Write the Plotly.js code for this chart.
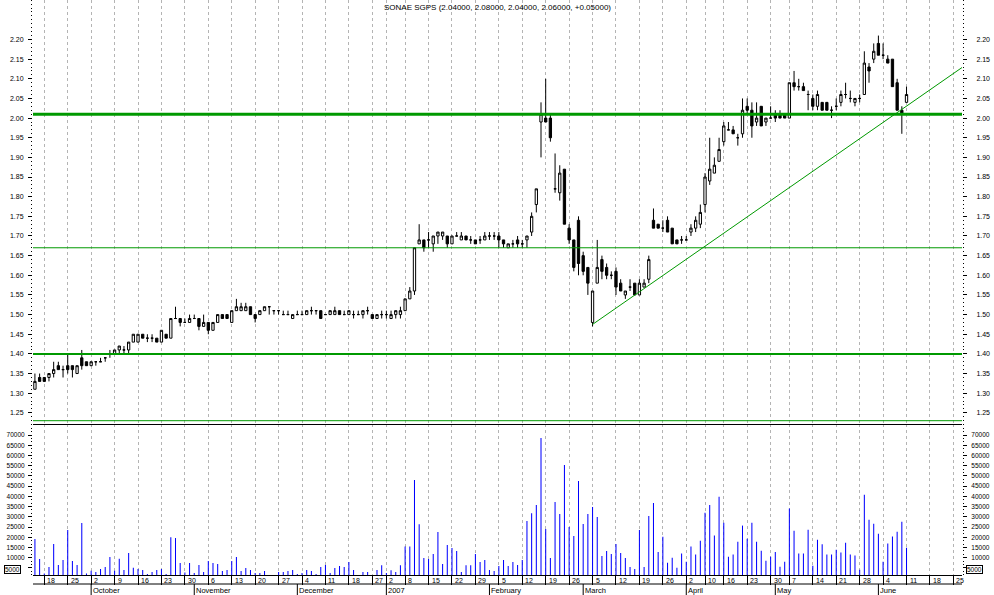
<!DOCTYPE html>
<html><head><meta charset="utf-8">
<script src="https://cdn.plot.ly/plotly-3.0.1.min.js"></script>
<style>html,body{margin:0;padding:0;background:#fff;}#chart{width:994px;height:595px;}</style>
</head><body><div id="chart"></div>
<script>
// ---- calendar (trading days, Euronext Lisbon) ----
const calendarStart = '2006-09-14';
const calendarEnd = '2007-06-29';
const holidays = ['2006-12-25','2006-12-26','2007-01-01','2007-04-06','2007-04-09','2007-05-01'];

// ---- OHLC data, one entry per trading day from 2006-09-14 ----
const priceOpen = [
1.31,1.34,1.34,1.34,1.35,1.37,1.36,1.37,1.37,1.35,
1.39,1.38,1.37,1.38,1.38,1.39,1.40,1.40,1.41,1.41,
1.41,1.43,1.43,1.45,1.44,1.44,1.44,1.43,1.45,1.44,
1.49,1.49,1.48,1.48,1.49,1.49,1.47,1.48,1.46,1.48,
1.50,1.50,1.48,1.51,1.51,1.51,1.52,1.50,1.50,1.51,
1.52,1.51,1.51,1.50,1.50,1.49,1.50,1.50,1.50,1.51,
1.51,1.51,1.50,1.50,1.50,1.51,1.50,1.50,1.50,1.50,
1.50,1.51,1.50,1.49,1.50,1.50,1.49,1.50,1.50,1.51,
1.54,1.56,1.68,1.69,1.69,1.68,1.70,1.70,1.70,1.68,
1.70,1.69,1.70,1.69,1.69,1.69,1.69,1.70,1.70,1.70,
1.69,1.67,1.68,1.69,1.68,1.69,1.71,1.78,1.99,2.00,
2.00,1.82,1.81,1.87,1.72,1.69,1.74,1.65,1.62,1.48,
1.58,1.64,1.62,1.60,1.61,1.58,1.55,1.57,1.58,1.55,
1.57,1.59,1.74,1.73,1.72,1.74,1.72,1.69,1.69,1.69,
1.71,1.72,1.73,1.78,1.84,1.86,1.89,1.94,1.97,1.97,
1.95,1.96,2.03,2.02,1.99,2.03,1.99,2.00,2.01,2.01,
2.01,2.00,2.09,2.08,2.08,2.06,2.05,2.03,2.04,2.04,
2.02,2.03,2.04,2.06,2.05,2.04,2.05,2.06,2.13,2.15,
2.19,2.16,2.15,2.15,2.09,2.02,2.04];
const priceHigh = [
1.35,1.35,1.34,1.35,1.38,1.38,1.37,1.40,1.37,1.37,
1.41,1.38,1.38,1.38,1.39,1.39,1.41,1.41,1.42,1.42,
1.43,1.45,1.45,1.45,1.45,1.45,1.44,1.46,1.45,1.49,
1.52,1.49,1.49,1.50,1.50,1.49,1.50,1.48,1.48,1.50,
1.50,1.50,1.51,1.54,1.53,1.53,1.52,1.50,1.51,1.52,
1.52,1.51,1.51,1.51,1.51,1.50,1.51,1.51,1.51,1.52,
1.51,1.51,1.50,1.51,1.52,1.51,1.51,1.51,1.51,1.51,
1.51,1.52,1.50,1.50,1.51,1.51,1.51,1.51,1.52,1.54,
1.57,1.67,1.73,1.69,1.71,1.70,1.71,1.71,1.70,1.70,
1.71,1.71,1.70,1.70,1.69,1.70,1.71,1.71,1.71,1.71,
1.69,1.68,1.69,1.70,1.69,1.70,1.76,1.82,2.04,2.10,
2.01,1.91,1.88,1.87,1.73,1.69,1.75,1.66,1.62,1.56,
1.69,1.65,1.63,1.61,1.62,1.59,1.56,1.59,1.58,1.59,
1.59,1.65,1.77,1.73,1.74,1.75,1.72,1.69,1.70,1.70,
1.73,1.75,1.78,1.86,1.95,1.90,1.95,1.99,1.99,1.98,
1.96,2.05,2.05,2.04,2.04,2.03,2.00,2.03,2.02,2.02,
2.01,2.09,2.12,2.10,2.09,2.07,2.06,2.07,2.04,2.04,
2.03,2.05,2.07,2.09,2.07,2.05,2.06,2.17,2.14,2.19,
2.21,2.19,2.16,2.15,2.10,2.03,2.08];
const priceLow = [
1.31,1.33,1.33,1.33,1.34,1.36,1.34,1.35,1.34,1.35,
1.36,1.37,1.37,1.37,1.38,1.38,1.39,1.40,1.40,1.40,
1.40,1.43,1.43,1.44,1.43,1.43,1.43,1.43,1.44,1.44,
1.49,1.47,1.48,1.48,1.49,1.46,1.47,1.45,1.46,1.48,
1.49,1.49,1.48,1.51,1.51,1.51,1.50,1.48,1.50,1.51,
1.50,1.50,1.50,1.50,1.50,1.49,1.50,1.50,1.50,1.50,
1.50,1.49,1.50,1.50,1.50,1.50,1.50,1.50,1.49,1.50,
1.49,1.50,1.49,1.49,1.49,1.49,1.49,1.49,1.49,1.51,
1.54,1.55,1.68,1.66,1.67,1.66,1.68,1.69,1.67,1.68,
1.70,1.69,1.69,1.68,1.68,1.68,1.69,1.69,1.69,1.67,
1.67,1.67,1.67,1.67,1.67,1.67,1.70,1.76,1.90,1.99,
1.94,1.81,1.79,1.73,1.68,1.61,1.60,1.60,1.55,1.47,
1.58,1.59,1.59,1.59,1.55,1.56,1.54,1.56,1.55,1.55,
1.57,1.58,1.72,1.72,1.71,1.71,1.68,1.68,1.68,1.69,
1.70,1.71,1.72,1.76,1.83,1.86,1.89,1.93,1.97,1.96,
1.93,1.95,2.01,1.95,1.98,1.98,1.98,2.00,1.99,2.00,
2.00,2.00,2.07,2.07,2.07,2.02,2.02,2.02,2.02,2.02,
2.00,2.02,2.03,2.05,2.04,2.03,2.04,2.06,2.09,2.14,
2.16,2.15,2.14,2.08,2.02,1.96,2.04];
const priceClose = [
1.33,1.33,1.33,1.35,1.36,1.36,1.36,1.36,1.36,1.37,
1.37,1.37,1.38,1.38,1.38,1.39,1.40,1.41,1.42,1.41,
1.43,1.45,1.45,1.44,1.44,1.44,1.43,1.46,1.44,1.49,
1.49,1.48,1.48,1.49,1.49,1.47,1.48,1.46,1.48,1.50,
1.49,1.49,1.51,1.52,1.52,1.52,1.50,1.49,1.51,1.52,
1.52,1.51,1.51,1.50,1.50,1.50,1.50,1.50,1.51,1.51,
1.51,1.49,1.50,1.51,1.51,1.50,1.50,1.51,1.50,1.50,
1.51,1.51,1.49,1.50,1.50,1.50,1.50,1.51,1.51,1.54,
1.56,1.67,1.69,1.67,1.69,1.70,1.71,1.71,1.68,1.70,
1.70,1.70,1.69,1.69,1.68,1.69,1.70,1.70,1.70,1.69,
1.68,1.68,1.68,1.68,1.68,1.70,1.75,1.82,2.01,1.99,
1.95,1.82,1.86,1.73,1.69,1.62,1.63,1.61,1.58,1.56,
1.62,1.61,1.60,1.60,1.57,1.56,1.56,1.57,1.55,1.58,
1.58,1.64,1.72,1.72,1.72,1.71,1.68,1.68,1.69,1.69,
1.72,1.74,1.76,1.85,1.87,1.88,1.92,1.98,1.97,1.96,
1.95,2.02,2.02,1.98,2.00,1.98,2.00,2.00,2.00,2.00,
2.00,2.09,2.08,2.08,2.07,2.06,2.03,2.06,2.02,2.02,
2.02,2.03,2.06,2.06,2.05,2.05,2.05,2.14,2.12,2.17,
2.16,2.16,2.14,2.08,2.02,2.01,2.06];
const volume = [19100,9400,2300,5400,16700,6400,8900,23500,8400,6400,27000,2300,3600,3000,4500,5400,10300,3600,9500,4000,12300,5100,4500,4000,2000,3000,4000,4500,2000,20000,19600,7400,2800,7400,2500,6400,3000,8400,7400,6900,3500,4000,8400,10300,3500,5000,4000,2500,2500,3500,1200,1200,3000,3000,3500,4000,2000,2500,4000,3500,2000,5400,6400,2500,5000,5900,5400,7900,4000,1200,3000,3000,1200,4000,6300,2500,3800,3000,6300,15400,15500,48000,26300,9800,9400,11800,22600,6900,16200,14700,13300,3000,6300,6300,11800,7900,8900,4000,3500,5900,8900,5900,7900,6400,8900,27900,31700,35800,68500,24000,9800,37200,31400,55300,25000,20600,47500,26500,31400,34800,29900,10800,13300,11800,16700,12300,9800,5400,4500,23500,5400,30400,36700,12800,20200,7500,10000,5100,12000,8000,15400,11500,18300,32000,35800,20800,39800,27100,10500,11500,17800,25700,19300,27100,17800,13400,8500,10500,12800,5600,8000,34000,23200,12000,12000,23700,6100,18800,16500,11500,11500,13900,12500,17300,11500,11000,4100,40800,28600,26600,21700,8000,16900,20300,22700,27600,14900];

// ---- tick labels / annotations ----
const priceTicks = [1.25,1.30,1.35,1.40,1.45,1.50,1.55,1.60,1.65,1.70,1.75,1.80,1.85,1.90,1.95,2.00,2.05,2.10,2.15,2.20];
const volumeTicks = [5000,10000,15000,20000,25000,30000,35000,40000,45000,50000,55000,60000,65000,70000];
const monthNames = ['2007','February','March','April','May','June','July','August','September','October','November','December'];
const levels = [2.01, 1.67, 1.40, 1.23];
const trendDates = ['2007-03-05','2007-06-27'];
const trendPrices = [1.475, 2.130];
const titleText = 'SONAE SGPS (2.04000, 2.08000, 2.04000, 2.06000, +0.05000)';
const volumeBoxLabel = '5000';

// ---- build calendar ----
function iso(d){return d.toISOString().slice(0,10);}
const cal = [];
for (let t = Date.parse(calendarStart+'T00:00:00Z'); t <= Date.parse(calendarEnd+'T00:00:00Z'); t += 86400000) {
  const d = new Date(t); const w = d.getUTCDay();
  if (w === 0 || w === 6) continue;
  if (holidays.indexOf(iso(d)) >= 0) continue;
  cal.push(d);
}
const calIso = cal.map(iso);
const xs = priceOpen.map((_, i) => i);

const weekIdx = [];
const monthIdx = [];
for (let i = 1; i < cal.length; i++) {
  const a = cal[i-1], b = cal[i];
  if (b.getUTCDay() < a.getUTCDay() || (b - a) >= 7*86400000) weekIdx.push(i);
  if (b.getUTCMonth() !== a.getUTCMonth()) monthIdx.push(i);
}

const FONT = 'Liberation Sans, Arial, sans-serif';
const GREEN = '#009900';
const levelWidths = [3, 1, 2, 1];

const traces = [
  { type: 'bar', x: xs, y: volume, xaxis: 'x', yaxis: 'y', marker: {color: '#0000ff', line: {width: 0}}, width: 0.22, hoverinfo: 'skip', showlegend: false },
  { type: 'scatter', mode: 'markers', x: [xs[0]], y: [volumeTicks[0]], xaxis: 'x', yaxis: 'y3', marker: {opacity: 0}, hoverinfo: 'skip', showlegend: false },
  { type: 'candlestick', x: xs, open: priceOpen, high: priceHigh, low: priceLow, close: priceClose, xaxis: 'x2', yaxis: 'y2',
    increasing: {line: {color: 'black', width: 1}, fillcolor: 'white'},
    decreasing: {line: {color: 'black', width: 1}, fillcolor: 'black'},
    whiskerwidth: 0, hoverinfo: 'skip', showlegend: false },
  { type: 'scatter', mode: 'lines', x: trendDates.map(d => calIso.indexOf(d)), y: trendPrices, xaxis: 'x2', yaxis: 'y2', line: {color: GREEN, width: 1}, hoverinfo: 'skip', showlegend: false },
  { type: 'scatter', mode: 'markers', x: [xs[0]], y: [priceTicks[0]], xaxis: 'x2', yaxis: 'y4', marker: {opacity: 0}, hoverinfo: 'skip', showlegend: false }
];

const PH = 575; // plot area height in px (t=0)
const PW = 929; // plot area width in px
const paperY = px => (PH - px) / PH;
const paperX = px => (px - 33) / PW;
const volDomainTop = (PH - 424) / PH;
const xRange = [-0.41, 197.84];
const priceRange = [1.2216, 2.3005];
const volRange = [1520, 75380];

const tickFont = {family: FONT, size: 7, color: 'black'};
const volFont = {family: FONT, size: 6.5, color: 'black'};
function yAx(extra){
  return Object.assign({
    showgrid: false, zeroline: false, showline: false,
    ticks: 'outside', ticklen: 4, tickcolor: 'black', tickwidth: 1,
    tickfont: tickFont, fixedrange: true
  }, extra);
}
// the lowest volume label is drawn in its own framed box (as in the original)
const volTickText = volumeTicks.map(v => (String(v) === volumeBoxLabel ? '' : String(v)));
const priceTickText = priceTicks.map(v => v.toFixed(2));
const volMinor = {ticks: 'outside', ticklen: 1, tickcolor: 'black', tickmode: 'linear', tick0: 0, dtick: 5000/3, showgrid: false};
const priceMinor = {ticks: 'outside', ticklen: 1, tickcolor: 'black', tickmode: 'linear', tick0: 0, dtick: 0.01, showgrid: false};

const xCommon = {
  range: xRange, autorange: false, tickmode: 'array', tickvals: weekIdx,
  showgrid: true, gridcolor: '#b4b4b4', gridwidth: 1, griddash: '3px,3px',
  zeroline: false, showline: true, linecolor: 'black', linewidth: 1,
  showticklabels: false, fixedrange: true, rangeslider: {visible: false}
};

const shapes = [];
levels.forEach((lv, k) => shapes.push({type: 'line', xref: 'paper', x0: 0, x1: 1, yref: 'y2', y0: lv, y1: lv, line: {color: GREEN, width: levelWidths[k]}}));
shapes.push({type: 'line', xref: 'paper', x0: 0, x1: 1, yref: 'paper', y0: paperY(584), y1: paperY(584), line: {color: 'black', width: 1}});
monthIdx.forEach(i => shapes.push({type: 'line', xref: 'x', x0: i, x1: i, yref: 'paper', y0: paperY(584), y1: paperY(595), line: {color: 'black', width: 1}}));

const annotations = [];
weekIdx.forEach(i => annotations.push({xref: 'x', yref: 'paper', x: i, y: paperY(580), xanchor: 'left', yanchor: 'middle', xshift: 1, text: String(cal[i].getUTCDate()), showarrow: false, font: {family: FONT, size: 7, color: 'black'}}));
monthIdx.forEach(i => annotations.push({xref: 'x', yref: 'paper', x: i, y: paperY(590), xanchor: 'left', yanchor: 'middle', xshift: 0, text: monthNames[cal[i].getUTCMonth()], showarrow: false, font: {family: FONT, size: 7.5, color: 'black'}}));
// framed scale labels at the bottom of the volume axes
annotations.push({xref: 'paper', yref: 'paper', x: paperX(12), y: paperY(569), xanchor: 'center', yanchor: 'middle', text: volumeBoxLabel, showarrow: false, bordercolor: 'black', borderwidth: 1, borderpad: 0, bgcolor: 'white', font: {family: FONT, size: 6.5, color: 'black'}});
annotations.push({xref: 'paper', yref: 'paper', x: paperX(974), y: paperY(569), xanchor: 'center', yanchor: 'middle', text: volumeBoxLabel, showarrow: false, bordercolor: 'black', borderwidth: 1, borderpad: 0, bgcolor: 'white', font: {family: FONT, size: 6.5, color: 'black'}});

const layout = {
  width: 994, height: 595,
  margin: {l: 33, r: 32, t: 0, b: 20, pad: 0},
  paper_bgcolor: 'white', plot_bgcolor: 'white',
  showlegend: false, dragmode: false, hovermode: false,
  title: {text: titleText, font: {family: FONT, size: 8, color: 'black'}, x: 0.5, xref: 'paper', xanchor: 'center', y: 1 - 7/595, yref: 'container', yanchor: 'middle'},
  xaxis: Object.assign({}, xCommon, {anchor: 'y', ticks: 'outside', ticklen: 9, tickcolor: 'black', tickwidth: 1}),
  xaxis2: Object.assign({}, xCommon, {anchor: 'y2', matches: 'x', ticks: ''}),
  yaxis: yAx({domain: [0, volDomainTop], range: volRange, tickmode: 'array', tickvals: volumeTicks, ticktext: volTickText, side: 'left', anchor: 'x', minor: volMinor, ticklabelstandoff: 2, tickfont: volFont}),
  yaxis3: yAx({overlaying: 'y', range: volRange, tickmode: 'array', tickvals: volumeTicks, ticktext: volTickText, side: 'right', anchor: 'x', minor: volMinor, ticklabelstandoff: 3, tickfont: volFont}),
  yaxis2: yAx({domain: [volDomainTop, 1], range: priceRange, tickmode: 'array', tickvals: priceTicks, ticktext: priceTickText, side: 'left', anchor: 'x2', minor: priceMinor, ticklabelstandoff: 3}),
  yaxis4: yAx({overlaying: 'y2', range: priceRange, tickmode: 'array', tickvals: priceTicks, ticktext: priceTickText, side: 'right', anchor: 'x2', minor: priceMinor, ticklabelstandoff: 8}),
  shapes: shapes,
  annotations: annotations,
  boxgap: 0.3
};

Plotly.newPlot('chart', traces, layout, {staticPlot: true, displayModeBar: false});
</script>
</body></html>
